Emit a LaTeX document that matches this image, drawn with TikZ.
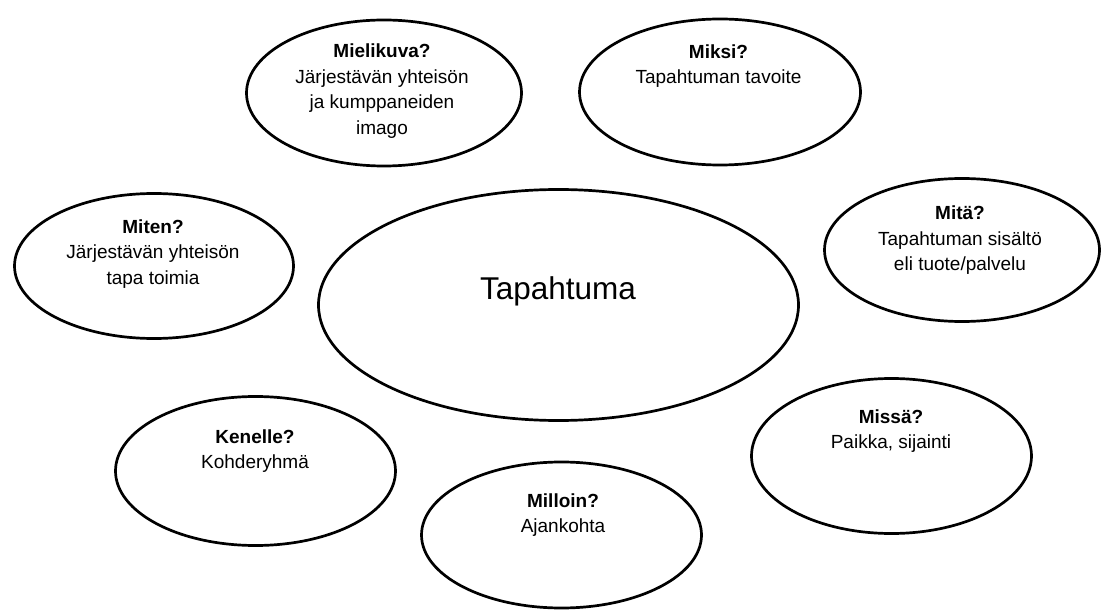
\documentclass[tikz,border=0pt]{standalone}
\usepackage{fontspec}
\setmainfont{Liberation Sans}
\usetikzlibrary{shapes.geometric}
\begin{document}
\begin{tikzpicture}[x=1pt,y=-1pt]
\tikzstyle{every node}+=[inner sep=0pt]
\tikzstyle{bubble}=[draw=black, line width=2.7pt, ellipse]
\tikzstyle{txt}=[anchor=north, align=center, font=\fontsize{19}{25.5}\selectfont]
\useasboundingbox (0,0) rectangle (1103,612);
\node [bubble, minimum width=480pt, minimum height=231pt] (tapahtuma) at (558.5,305) {};
\node [anchor=north, font=\fontsize{31.5}{36}\selectfont] (tapahtumat) at (558,276) {Tapahtuma};
\node [bubble, minimum width=275pt, minimum height=146pt] (mielikuva) at (384,93) {};
\node [txt] (mielikuvat) at (382,44) {\textbf{Mielikuva?}\\Järjestävän yhteisön\\ja kumppaneiden\\imago};
\node [bubble, minimum width=281pt, minimum height=146pt] (miksi) at (720,92) {};
\node [txt] (miksit) at (718.5,44.5) {\textbf{Miksi?}\\Tapahtuman tavoite};
\node [bubble, minimum width=275pt, minimum height=143pt] (mita) at (962,250) {};
\node [txt] (mitat) at (960,206) {\textbf{Mitä?}\\Tapahtuman sisältö\\eli tuote/palvelu};
\node [bubble, minimum width=279pt, minimum height=145pt] (miten) at (154,266) {};
\node [txt] (mitent) at (153,219.5) {\textbf{Miten?}\\Järjestävän yhteisön\\tapa toimia};
\node [bubble, minimum width=280pt, minimum height=149pt] (kenelle) at (255.5,471) {};
\node [txt] (kenellet) at (255,429.5) {\textbf{Kenelle?}\\Kohderyhmä};
\node [bubble, minimum width=280pt, minimum height=146pt] (milloin) at (561.5,535) {};
\node [txt] (milloint) at (563,493.5) {\textbf{Milloin?}\\Ajankohta};
\node [bubble, minimum width=280pt, minimum height=155pt] (missa) at (891.5,456) {};
\node [txt] (missat) at (891,409.5) {\textbf{Missä?}\\Paikka, sijainti};
\end{tikzpicture}
\end{document}
